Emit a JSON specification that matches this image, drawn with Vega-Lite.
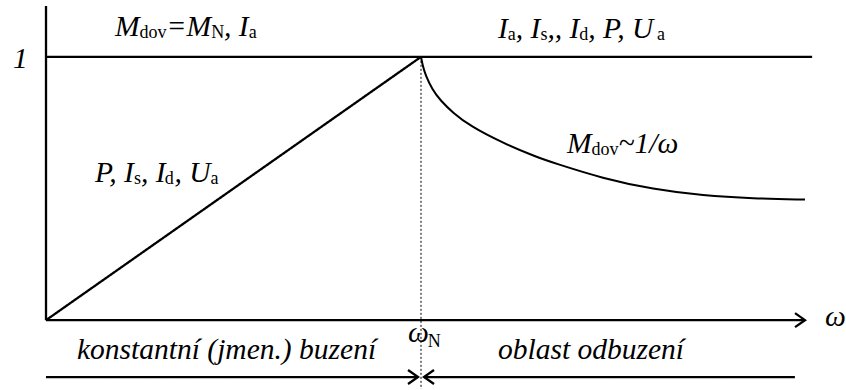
{
  "$schema": "https://vega.github.io/schema/vega-lite/v6.json",
  "width": 846,
  "height": 390,
  "padding": 0,
  "autosize": {"type": "fit", "contains": "padding"},
  "background": "white",
  "config": {"view": {"stroke": null}},
  "datasets": {
    "segments": [
      {"part": "osa M", "x": 0, "y": 0, "x2": 0, "y2": 1.193, "dash": "no"},
      {"part": "osa omega", "x": 0, "y": 0, "x2": 2.024, "y2": 0, "dash": "no"},
      {"part": "Mdov = MN", "x": 0, "y": 1, "x2": 2.043, "y2": 1, "dash": "no"},
      {"part": "P, Is, Id, Ua", "x": 0, "y": 0, "x2": 1, "y2": 1, "dash": "no"},
      {"part": "konstantni buzeni", "x": 0, "y": -0.216, "x2": 0.992, "y2": -0.216, "dash": "no"},
      {"part": "oblast odbuzeni", "x": 1.008, "y": -0.216, "x2": 1.997, "y2": -0.216, "dash": "no"},
      {"part": "omegaN", "x": 1, "y": 1, "x2": 1, "y2": -0.2614, "dash": "yes"}
    ],
    "curve": [
      {"w": 1.0, "m": 1.0},
      {"w": 1.004, "m": 0.97},
      {"w": 1.012, "m": 0.93},
      {"w": 1.03, "m": 0.876},
      {"w": 1.052, "m": 0.834},
      {"w": 1.085, "m": 0.788},
      {"w": 1.131, "m": 0.737},
      {"w": 1.219, "m": 0.672},
      {"w": 1.309, "m": 0.619},
      {"w": 1.352, "m": 0.598},
      {"w": 1.485, "m": 0.538},
      {"w": 1.619, "m": 0.497},
      {"w": 1.752, "m": 0.473},
      {"w": 1.885, "m": 0.462},
      {"w": 2.024, "m": 0.458}
    ],
    "heads": [
      {"x": 2.024, "y": 0, "dir": "right"},
      {"x": 0.992, "y": -0.216, "dir": "right"},
      {"x": 1.008, "y": -0.216, "dir": "left"}
    ],
    "mainText": [
      {"x": 0.184, "y": 1.0795, "t": "M"},
      {"x": 0.3216, "y": 1.0795, "t": "=M"},
      {"x": 0.4749, "y": 1.0795, "t": ", I"},
      {"x": 1.2053, "y": 1.072, "t": "I"},
      {"x": 1.2528, "y": 1.072, "t": ", I"},
      {"x": 1.3371, "y": 1.072, "t": ",, I"},
      {"x": 1.4461, "y": 1.072, "t": ", P, U"},
      {"x": 0.1307, "y": 0.5265, "t": "P, I"},
      {"x": 0.2533, "y": 0.5265, "t": ", I"},
      {"x": 0.3429, "y": 0.5265, "t": ", U"},
      {"x": 1.3893, "y": 0.6364, "t": "M"},
      {"x": 1.5269, "y": 0.6364, "t": "~1/ω"},
      {"x": -0.088, "y": 0.9583, "t": "1"},
      {"x": 0.0827, "y": -0.1477, "t": "konstantní (jmen.) buzení"},
      {"x": 1.2053, "y": -0.1477, "t": "oblast odbuzení"},
      {"x": 0.9653, "y": -0.0833, "t": "ω"},
      {"x": 2.0773, "y": -0.0227, "t": "ω"}
    ],
    "subText": [
      {"x": 0.2496, "y": 1.072, "t": "dov"},
      {"x": 0.4403, "y": 1.072, "t": "N"},
      {"x": 0.5405, "y": 1.072, "t": "a"},
      {"x": 1.2315, "y": 1.0644, "t": "a"},
      {"x": 1.3184, "y": 1.0644, "t": "s"},
      {"x": 1.4221, "y": 1.0644, "t": "d"},
      {"x": 1.6296, "y": 1.0644, "t": "a"},
      {"x": 0.2347, "y": 0.5189, "t": "s"},
      {"x": 0.3163, "y": 0.5189, "t": "d"},
      {"x": 0.4389, "y": 0.5189, "t": "a"},
      {"x": 1.4549, "y": 0.6288, "t": "dov"},
      {"x": 1.018, "y": -0.1023, "t": "N"}
    ]
  },
  "layer": [
    {
      "data": {"name": "segments"},
      "mark": {"type": "rule", "color": "black", "strokeCap": "butt"},
      "encoding": {
        "x": {"field": "x", "type": "quantitative", "axis": null, "scale": {"domain": [-0.1227, 2.1333], "nice": false, "zero": false}},
        "y": {"field": "y", "type": "quantitative", "axis": null, "scale": {"domain": [-0.2614, 1.2159], "nice": false, "zero": false}},
        "x2": {"field": "x2"},
        "y2": {"field": "y2"},
        "strokeDash": {
          "field": "dash", "type": "nominal", "legend": null,
          "scale": {"domain": ["no", "yes"], "range": [[1, 0], [2, 2]]}
        },
        "strokeWidth": {
          "field": "dash", "type": "nominal", "legend": null,
          "scale": {"domain": ["no", "yes"], "range": [2.3, 1]}
        }
      }
    },
    {
      "data": {"name": "curve"},
      "mark": {"type": "line", "color": "black", "strokeWidth": 2, "interpolate": "basis"},
      "encoding": {
        "x": {"field": "w", "type": "quantitative"},
        "y": {"field": "m", "type": "quantitative"}
      }
    },
    {
      "data": {"name": "heads"},
      "mark": {"type": "point", "filled": false, "color": "black", "strokeWidth": 2.3, "size": 400, "opacity": 1},
      "encoding": {
        "x": {"field": "x", "type": "quantitative"},
        "y": {"field": "y", "type": "quantitative"},
        "shape": {
          "field": "dir", "type": "nominal", "legend": null,
          "scale": {"domain": ["right", "left"], "range": ["M-1,-0.7L0,0L-1,0.7", "M1,-0.7L0,0L1,0.7"]}
        }
      }
    },
    {
      "data": {"name": "mainText"},
      "mark": {"type": "text", "font": "Liberation Serif", "fontStyle": "italic", "fontSize": 29.5, "align": "left", "baseline": "alphabetic", "color": "black"},
      "encoding": {
        "x": {"field": "x", "type": "quantitative"},
        "y": {"field": "y", "type": "quantitative"},
        "text": {"field": "t"}
      }
    },
    {
      "data": {"name": "subText"},
      "mark": {"type": "text", "font": "Liberation Serif", "fontSize": 18, "align": "left", "baseline": "alphabetic", "color": "black"},
      "encoding": {
        "x": {"field": "x", "type": "quantitative"},
        "y": {"field": "y", "type": "quantitative"},
        "text": {"field": "t"}
      }
    }
  ]
}
